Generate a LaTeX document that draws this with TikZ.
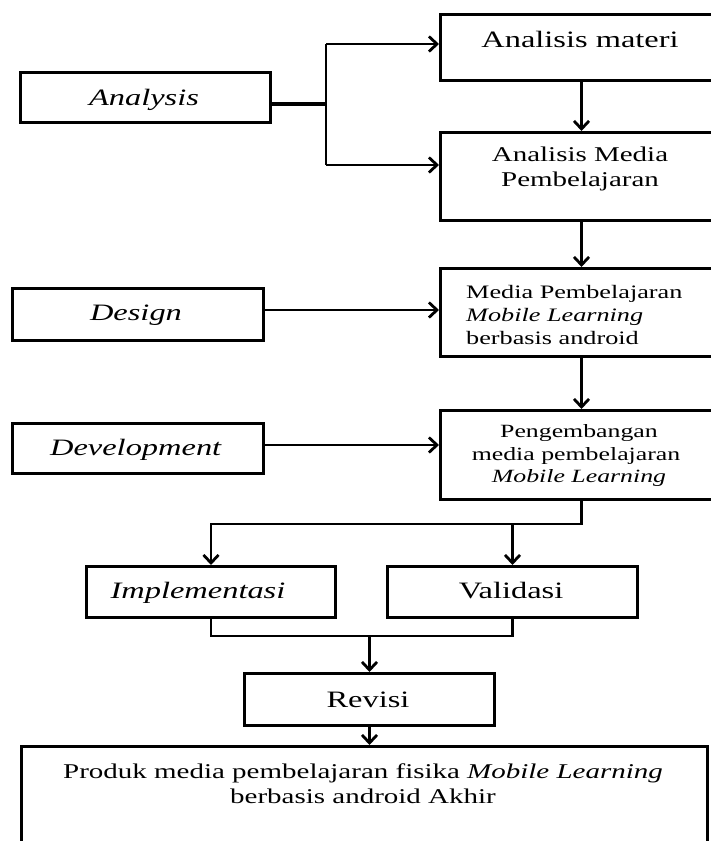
\documentclass[tikz,border=0pt]{standalone}
\usepackage{fontspec}
\setmainfont{Liberation Serif}
\usepackage{graphicx}
\usetikzlibrary{arrows.meta}

% wide serif text: font size, then horizontally stretched content
\newcommand{\wtxt}[2]{{\fontsize{#1}{#1}\selectfont\scalebox{1.38}[1]{#2}}}

\begin{document}
\begin{tikzpicture}[x=1pt,y=-1pt,
  blk/.style={draw, line width=3pt, inner sep=0pt, anchor=north west, fill=white},
  lbl/.style={inner sep=0pt, anchor=base},
  lblw/.style={inner sep=0pt, anchor=base west},
  wire/.style={line width=2.8pt},
  conn/.style={line width=2.8pt, -{Straight Barb[length=8pt,width=15pt]}}]

\useasboundingbox (0,0) rectangle (711,841);
\clip (0,0) rectangle (711,841);
\fill[white] (0,0) rectangle (711,841);

% boxes (top-left corner, width, height)
\node[blk, minimum width=282pt, minimum height=66pt] (am)  at (439,13)  {};
\node[blk, minimum width=282pt, minimum height=88pt] (amp) at (439,131) {};
\node[blk, minimum width=282pt, minimum height=88pt] (mp)  at (439,267) {};
\node[blk, minimum width=282pt, minimum height=89pt] (pg)  at (439,409) {};
\node[blk, minimum width=250pt, minimum height=50pt] (an)  at (19,71)   {};
\node[blk, minimum width=251pt, minimum height=52pt] (dg)  at (11,287)  {};
\node[blk, minimum width=251pt, minimum height=50pt] (dv)  at (11,422)  {};
\node[blk, minimum width=249pt, minimum height=51pt] (imp) at (85,565)  {};
\node[blk, minimum width=250pt, minimum height=51pt] (val) at (386,565) {};
\node[blk, minimum width=250pt, minimum height=52pt] (rev) at (243,672) {};
\node[blk, minimum width=686pt, minimum height=140pt] (fin) at (20,745) {};

% texts
\node[lbl] (tam) at (580,47) {\wtxt{23.5}{Analisis materi}};
\node[lbl] (tamp1) at (580,161) {\wtxt{21}{Analisis Media}};
\node[lbl] (tamp2) at (580,186) {\wtxt{21}{Pembelajaran}};
\node[lblw] (tmp1) at (466,298) {\wtxt{19}{Media Pembelajaran}};
\node[lblw] (tmp2) at (466,321) {\wtxt{19}{\textit{Mobile Learning}}};
\node[lblw] (tmp3) at (466,344) {\wtxt{19}{berbasis android}};
\node[lbl] (tpg1) at (579,437) {\wtxt{18.7}{Pengembangan}};
\node[lbl] (tpg2) at (576,460) {\wtxt{18.7}{media pembelajaran}};
\node[lbl] (tpg3) at (579,482) {\wtxt{18.7}{\textit{Mobile Learning}}};
\node[lbl] (tan) at (144,105) {\wtxt{23.5}{\textit{Analysis}}};
\node[lbl] (tdg) at (136,320) {\wtxt{23.5}{\textit{Design}}};
\node[lbl] (tdv) at (136,455) {\wtxt{23.5}{\textit{Development}}};
\node[lbl] (timp) at (198,598) {\wtxt{23.5}{\textit{Implementasi}}};
\node[lbl] (tval) at (511,598) {\wtxt{23.5}{Validasi}};
\node[lbl] (trev) at (368,707) {\wtxt{23.5}{Revisi}};
\node[lbl] (tfin1) at (363,778) {\wtxt{21}{Produk media pembelajaran fisika \textit{Mobile Learning}}};
\node[lbl] (tfin2) at (363,803) {\wtxt{21}{berbasis android Akhir}};

% analysis branch
\coordinate (ja) at (326,104);
\coordinate (jt) at (326,44);
\coordinate (jb) at (326,165);
\draw[line width=4.5pt] (an.east |- ja) -- (ja);
\draw[wire] (jt) -- (jb);
\draw[conn] (jt) -- (jt -| am.west);
\draw[conn] (jb) -- (jb -| amp.west);

% main column
\draw[conn] (am.south) -- (amp.north);
\draw[conn] (amp.south) -- (mp.north);
\draw[conn] (mp.south) -- (pg.north);

% side inputs
\coordinate (dd) at (262,310);
\draw[conn] (dd) -- (dd -| mp.west);
\coordinate (de) at (262,445);
\draw[conn] (de) -- (de -| pg.west);

% split to implementation and validation
\coordinate (s1) at (580,524);
\draw[conn] (pg.south) |- (imp.north |- s1) -- (imp.north);
\draw[conn] (val.north |- s1) -- (val.north);

% merge into revision
\coordinate (m1) at (367,636);
\draw[wire] (imp.south) -- (imp.south |- m1) -- (val.south |- m1) -- (val.south);
\draw[conn] (rev.north |- m1) -- (rev.north);
\draw[conn] (rev.south) -- (rev.south |- fin.north);

\end{tikzpicture}
\end{document}
